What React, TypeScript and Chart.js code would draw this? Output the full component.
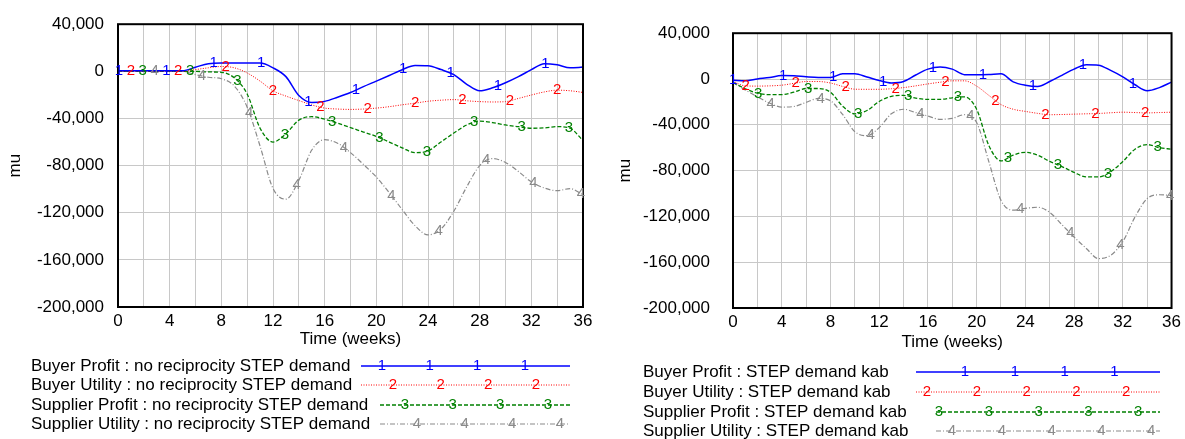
import React, { useEffect, useRef } from "react";
import { Chart, registerables } from "chart.js";

Chart.register(...registerables);

// ---- data -------------------------------------------------------------
const weeks = [0, 1, 2, 3, 4, 5, 6, 7, 8, 9, 10, 11, 12, 13, 14, 15, 16, 17, 18, 19, 20, 21, 22, 23, 24, 25, 26, 27, 28, 29, 30, 31, 32, 33, 34, 35, 36];
const xGridWeeks = [0, 2, 4, 6, 8, 10, 12, 14, 16, 18, 20, 22, 24, 26, 28, 30, 32, 34, 36];
const xLabelWeeks = [0, 4, 8, 12, 16, 20, 24, 28, 32, 36];
const muTicks = [40000, 0, -40000, -80000, -120000, -160000, -200000];

const leftNames = [
  "Buyer Profit : no reciprocity STEP demand",
  "Buyer Utility : no reciprocity STEP demand",
  "Supplier Profit : no reciprocity STEP demand",
  "Supplier Utility : no reciprocity STEP demand",
];
const rightNames = [
  "Buyer Profit : STEP demand kab",
  "Buyer Utility : STEP demand kab",
  "Supplier Profit : STEP demand kab",
  "Supplier Utility : STEP demand kab",
];

// no reciprocity, STEP demand
const leftBuyerProfit = [500, 500, 500, 500, 500, 500, 3500, 6500, 7000, 7000, 7000, 7000, 3000, -4500, -20500, -26500, -25500, -22000, -18000, -13000, -8300, -3500, 1400, 5000, 4700, 1500, -2800, -11000, -16500, -14000, -9700, -4500, 1400, 6500, 5500, 3000, 3600];
const leftBuyerUtility = [0, 0, 0, 0, 0, 0, 1500, 3000, 4100, 3000, -1400, -8300, -16500, -21000, -24800, -28500, -31200, -32000, -32300, -32000, -31200, -30000, -28400, -27000, -25400, -24500, -24000, -25000, -25700, -26000, -25700, -23000, -20100, -17500, -16000, -16500, -17900];
const leftSupplierProfit = [0, 0, 0, 0, 0, 0, 0, -500, -800, -5500, -19300, -48300, -60000, -53000, -41400, -38500, -40600, -44000, -47700, -51500, -55200, -60000, -64900, -69000, -67600, -60000, -52400, -45500, -42200, -43500, -45500, -47000, -48300, -48000, -46900, -48300, -58800];
const leftSupplierUtility = [0, 0, 0, 0, 0, 0, -2800, -5000, -6300, -12400, -30400, -63500, -99400, -108500, -92500, -66800, -58000, -61000, -69000, -79000, -89700, -103000, -117300, -131000, -138800, -133900, -118700, -98000, -80000, -74000, -77300, -85000, -93800, -99000, -101300, -99500, -104800];

// STEP demand kab
const rightBuyerProfit = [-1000, -1500, 0, 1300, 3000, 2800, 1900, 1300, 1300, 4500, 4600, 1800, -1300, -3500, -2200, 3500, 8600, 10500, 8600, 3800, 3800, 4000, 4500, -2500, -5400, -6500, -2200, 3200, 8600, 12500, 12100, 7500, 1900, -5000, -10200, -7500, -2700];
const rightBuyerUtility = [-2000, -6000, -6200, -6000, -5400, -3800, -2200, -2200, -3500, -6500, -8900, -9000, -9000, -8500, -7500, -6000, -4300, -2800, -1600, -1600, -6200, -14300, -22300, -26400, -28300, -30000, -31200, -31000, -30700, -30400, -30100, -29500, -29000, -29300, -29600, -29300, -29000];
const rightSupplierProfit = [-3000, -8500, -12400, -13700, -13700, -11500, -8300, -8300, -11600, -23700, -30400, -27500, -19600, -15100, -14300, -16700, -17800, -17800, -16400, -15600, -26400, -58000, -71500, -66500, -64000, -66500, -72000, -76500, -81500, -85500, -85500, -81000, -72100, -61300, -57300, -60000, -61300];
const rightSupplierUtility = [-3000, -9500, -15600, -21000, -24500, -24000, -20400, -17000, -19000, -31000, -46000, -49500, -42500, -30400, -26400, -29300, -32300, -35200, -34400, -31200, -38000, -72100, -106000, -114600, -113000, -112000, -116500, -127200, -138000, -148000, -156800, -154000, -142000, -120500, -104400, -101100, -101700];

// ---- styling ----------------------------------------------------------
const FONT = '"Liberation Sans", Arial, sans-serif';

const seriesStyles = [
  { color: "#0000ff", width: 1.5, dash: [] as number[] },
  { color: "#ff0000", width: 1, dash: [1, 1.5] },
  { color: "#008000", width: 1.3, dash: [4, 2] },
  { color: "#8a8a8a", width: 1.2, dash: [5, 2, 1, 2] },
];

const bez = (p0: number, p1: number, p2: number, p3: number, u: number) => {
  const v = 1 - u;
  return v * v * v * p0 + 3 * v * v * u * p1 + 3 * v * u * u * p2 + u * u * u * p3;
};

// numbered tags placed at a regular interval along each curve
const seriesMarks = {
  id: "seriesMarks",
  afterDraw(chart: any, _args: any, opts: any) {
    const { ctx } = chart;
    ctx.save();
    ctx.font = `15px ${FONT}`;
    ctx.textAlign = "center";
    ctx.textBaseline = "middle";
    chart.data.datasets.forEach((ds: any, k: number) => {
      const pts = chart.getDatasetMeta(k).data as any[];
      ctx.fillStyle = ds.borderColor;
      for (let t = opts.start + (k * opts.step) / 4; t <= 36.05; t += opts.step) {
        const tt = Math.min(t, 36);
        let i = 0;
        while (i < weeks.length - 2 && weeks[i + 1] <= tt) i++;
        const u = (tt - weeks[i]) / (weeks[i + 1] - weeks[i]);
        const a = pts[i];
        const b = pts[i + 1];
        const cp2x = a.cp2x ?? a.x, cp2y = a.cp2y ?? a.y;
        const cp1x = b.cp1x ?? b.x, cp1y = b.cp1y ?? b.y;
        const px = bez(a.x, cp2x, cp1x, b.x, u);
        const py = bez(a.y, cp2y, cp1y, b.y, u);
        ctx.fillText(String(k + 1), px, py);
      }
    });
    ctx.restore();
  },
};

// legend rows below the plot: name, sample line, numbered tags
const panelLegend = {
  id: "panelLegend",
  afterDraw(chart: any, _args: any, opts: any) {
    const { ctx } = chart;
    ctx.save();
    chart.data.datasets.forEach((ds: any, k: number) => {
      const y = opts.rows[k];
      ctx.font = `17px ${FONT}`;
      ctx.fillStyle = "#000";
      ctx.textAlign = "left";
      ctx.textBaseline = "middle";
      ctx.fillText(ds.label, opts.textX, y);
      ctx.strokeStyle = ds.borderColor;
      ctx.lineWidth = ds.borderWidth;
      ctx.setLineDash(ds.borderDash || []);
      ctx.beginPath();
      ctx.moveTo(opts.lineStart[k], y);
      ctx.lineTo(opts.lineEnd, y);
      ctx.stroke();
      ctx.setLineDash([]);
      ctx.font = `15px ${FONT}`;
      ctx.fillStyle = ds.borderColor;
      ctx.textAlign = "center";
      for (let mx = opts.firstMark[k]; mx <= opts.lineEnd - 5; mx += opts.markGap) {
        ctx.fillText(String(k + 1), mx, y);
      }
    });
    ctx.restore();
  },
};

// heavy black frame around the plotting area
const plotFrame = {
  id: "plotFrame",
  afterDatasetsDraw(chart: any) {
    const { ctx, chartArea: a } = chart;
    ctx.save();
    ctx.strokeStyle = "#000";
    ctx.lineWidth = 2;
    ctx.strokeRect(a.left, a.top, a.right - a.left, a.bottom - a.top);
    ctx.restore();
  },
};

type PanelSpec = {
  names: string[];
  values: number[][];
  padding: { top: number; left: number; right: number; bottom: number };
  yAxisWidth: number;
  xAxisHeight: number;
  yTickPad: number;
  xTickPad: number;
  yTitlePad: number;
  xTitlePad: number;
  marks: { start: number; step: number };
  legend: any;
};

function buildConfig(p: PanelSpec): any {
  const tickFont = { family: FONT, size: 17 };
  return {
    type: "line",
    data: {
      datasets: p.values.map((vals, k) => ({
        label: p.names[k],
        data: weeks.map((w, i) => ({ x: w, y: vals[i] })),
        borderColor: seriesStyles[k].color,
        borderWidth: seriesStyles[k].width,
        borderDash: seriesStyles[k].dash,
        pointRadius: 0,
        fill: false,
        cubicInterpolationMode: "monotone",
      })),
    },
    options: {
      responsive: false,
      animation: false,
      devicePixelRatio: 1,
      layout: { padding: p.padding },
      plugins: {
        legend: { display: false },
        tooltip: { enabled: false },
        seriesMarks: p.marks,
        panelLegend: p.legend,
      },
      scales: {
        x: {
          type: "linear",
          min: 0,
          max: 36,
          afterBuildTicks: (s: any) => {
            s.ticks = xGridWeeks.map((v) => ({ value: v }));
          },
          afterFit: (s: any) => {
            s.height = p.xAxisHeight;
          },
          ticks: {
            autoSkip: false,
            maxRotation: 0,
            padding: p.xTickPad,
            color: "#000",
            font: tickFont,
            callback: (v: any) => (xLabelWeeks.includes(Number(v)) ? String(v) : ""),
          },
          grid: { color: "#c8c8c8", lineWidth: 1, drawTicks: false },
          border: { display: false },
          title: {
            display: true,
            text: "Time (weeks)",
            color: "#000",
            font: tickFont,
            padding: { top: 0, bottom: p.xTitlePad },
          },
        },
        y: {
          type: "linear",
          min: -200000,
          max: 40000,
          afterBuildTicks: (s: any) => {
            s.ticks = muTicks.map((v) => ({ value: v }));
          },
          afterFit: (s: any) => {
            s.width = p.yAxisWidth;
          },
          ticks: {
            padding: p.yTickPad,
            color: "#000",
            font: tickFont,
            callback: (v: any) => Number(v).toLocaleString("en-US"),
          },
          grid: { color: "#c8c8c8", lineWidth: 1, drawTicks: false },
          border: { display: false },
          title: {
            display: true,
            text: "mu",
            color: "#000",
            font: tickFont,
            padding: { top: p.yTitlePad, bottom: 0 },
          },
        },
      },
    },
    plugins: [plotFrame, seriesMarks, panelLegend],
  };
}

const leftPanel: PanelSpec = {
  names: leftNames,
  values: [leftBuyerProfit, leftBuyerUtility, leftSupplierProfit, leftSupplierUtility],
  padding: { top: 22, left: 0, right: 17, bottom: 87 },
  yAxisWidth: 118,
  xAxisHeight: 45,
  yTickPad: 14,
  xTickPad: 4,
  yTitlePad: 5,
  xTitlePad: 2,
  marks: { start: 0.08, step: 3.667 },
  legend: {
    textX: 31,
    rows: [366, 385, 405, 424],
    lineStart: [361, 361, 380, 380],
    lineEnd: 570,
    firstMark: [382, 393, 405, 417],
    markGap: 47.6,
  },
};

const rightPanel: PanelSpec = {
  names: rightNames,
  values: [rightBuyerProfit, rightBuyerUtility, rightSupplierProfit, rightSupplierUtility],
  padding: { top: 11, left: 0, right: 12, bottom: 83 },
  yAxisWidth: 133,
  xAxisHeight: 48,
  yTickPad: 23,
  xTickPad: 4,
  yTitlePad: 15,
  xTitlePad: 3,
  marks: { start: 0.02, step: 4.1 },
  legend: {
    textX: 43,
    rows: [372, 392, 412, 431],
    lineStart: [316, 316, 336, 336],
    lineEnd: 560,
    firstMark: [365, 327, 339, 352],
    markGap: 49.8,
  },
};

function Panel({ spec, left, width }: { spec: PanelSpec; left: number; width: number }) {
  const ref = useRef<HTMLCanvasElement>(null);
  useEffect(() => {
    const chart = new Chart(ref.current as HTMLCanvasElement, buildConfig(spec));
    return () => chart.destroy();
  }, [spec]);
  return (
    <canvas
      ref={ref}
      width={width}
      height={439}
      style={{ position: "absolute", left, top: 0, width, height: 439 }}
    />
  );
}

export default function App() {
  return (
    <div style={{ position: "absolute", left: 0, top: 0, width: 1185, height: 439, background: "#fff" }}>
      <Panel spec={leftPanel} left={0} width={600} />
      <Panel spec={rightPanel} left={600} width={585} />
    </div>
  );
}
